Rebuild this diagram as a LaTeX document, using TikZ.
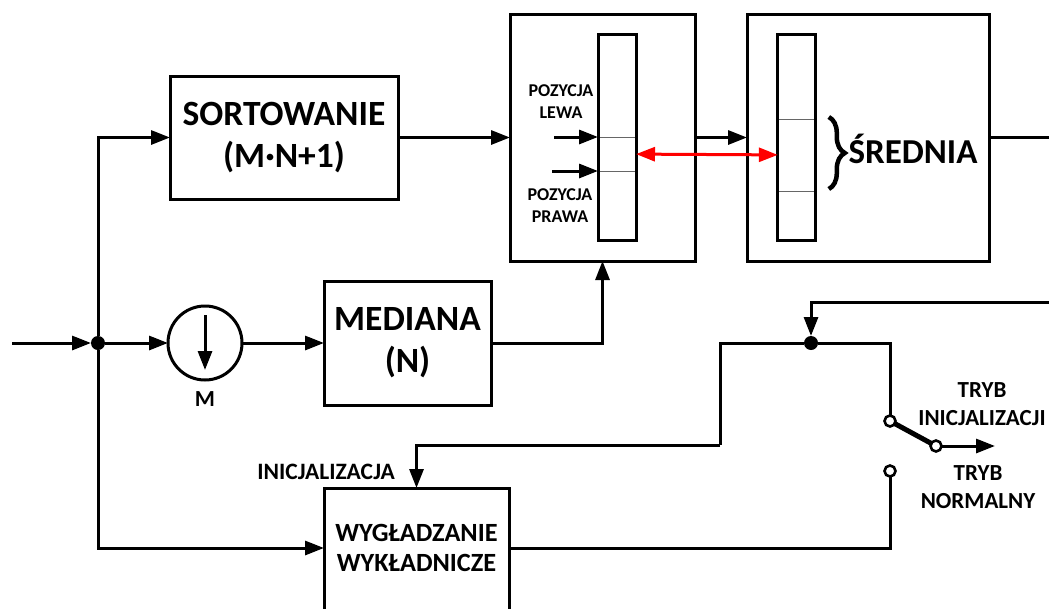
\documentclass[tikz,border=0pt]{standalone}
\usepackage{fontspec}
\setmainfont{Carlito}
\usetikzlibrary{positioning,fit,arrows.meta,decorations.pathreplacing}

\newcommand{\fsize}[2]{\fontsize{#1}{#2}\selectfont\bfseries}

\begin{document}
\begin{tikzpicture}[
  x=1pt, y=-1pt,
  block/.style={draw, line width=3pt, inner sep=0pt, outer sep=0pt, align=center},
  bigblock/.style={block, font=\fsize{35.5}{42}},
  panel/.style={block, minimum width=185pt, minimum height=247pt},
  cell/.style={draw=black!60, line width=1pt, inner sep=0pt, outer sep=0pt, minimum width=38pt},
  tape/.style={draw, line width=3pt, inner sep=0pt, outer sep=0pt},
  junction/.style={circle, fill=black, inner sep=0pt, outer sep=0pt, minimum size=14pt},
  contact/.style={circle, draw, fill=white, line width=2.6pt, inner sep=0pt, outer sep=0pt, minimum size=11pt},
  smalllabel/.style={align=center, inner sep=0pt, font=\fsize{18}{22}},
  modelabel/.style={align=center, inner sep=0pt, font=\fsize{23}{28}},
  signal/.style={line width=3pt, -{Triangle[length=19pt,width=14pt]}},
  wire/.style={line width=3pt},
  ratio/.style={red, line width=3pt, {Triangle[length=19pt,width=14pt]}-{Triangle[length=19pt,width=14pt]}}
]
  \useasboundingbox (0,0) rectangle (1049,608);

  \coordinate (input) at (12,343);
  \node[junction] (split) at (98,343) {};
  \node[block, circle, minimum size=74pt, right=63pt of split] (sampler) {};
  \node[below=11pt of sampler, modelabel] (samplerlabel) {M};
  \node[bigblock, minimum width=167pt, minimum height=124pt, right=82pt of sampler] (mediana) {MEDIANA\\(N)};
  \node[bigblock, minimum width=228pt, minimum height=123pt] (sort) at (284,137.5) {SORTOWANIE\\(M·N+1)};
  \node[panel, right=112pt of sort] (window) {};
  \node[panel, minimum width=242pt, right=52pt of window] (average) {};
  \node[block, minimum width=185pt, minimum height=124pt] (smooth) at (416.5,550) {};
  \node[font=\fsize{26.3}{30}, align=center, inner sep=0pt] (smoothlabel) at (416.5,548) {WYG\L{}ADZANIE\\WYK\L{}ADNICZE};

  \node[cell, minimum height=34pt] (winmid) at (617,154) {};
  \node[cell, minimum height=103pt, above=0pt of winmid] (wintop) {};
  \node[cell, minimum height=69pt, below=0pt of winmid] (winbot) {};
  \node[tape, fit=(wintop)(winbot)] (wintape) {};

  \node[cell, minimum height=72pt] (avgmid) at (796.8,155) {};
  \node[cell, minimum height=85pt, above=0pt of avgmid] (avgtop) {};
  \node[cell, minimum height=49pt, below=0pt of avgmid] (avgbot) {};
  \node[tape, fit=(avgtop)(avgbot)] (avgtape) {};

  \node[smalllabel] (leftlabel) at (561,102) {POZYCJA\\LEWA};
  \node[smalllabel] (rightlabel) at (560,205.5) {POZYCJA\\PRAWA};
  \coordinate (leftstart) at (554,137);
  \coordinate (rightstart) at (552,171);
  \node[inner sep=0pt, font=\fsize{35}{40}] (avglabel) at (913,149) {ŚREDNIA};

  \node[junction] (merge) at (811,343) {};
  \node[contact] (upper) at (890,421) {};
  \node[contact] (lower) at (890,471) {};
  \node[contact] (pole) at (936,446) {};
  \coordinate (out) at (995,446);
  \coordinate (feedback) at (1049,302);
  \coordinate (avgout) at (1049,137.5);
  \coordinate (bend) at (720,445);
  \node[modelabel] (initlabel) at (982,404) {TRYB\\INICJALIZACJI};
  \node[modelabel] (normlabel) at (978,487) {TRYB\\NORMALNY};
  \node[inner sep=0pt, font=\fsize{23.5}{28}] (smoothinit) at (326,472) {INICJALIZACJA};

  \draw[signal] (input) -- (split);
  \draw[signal] (split) -- (sampler);
  \draw[signal] (sampler) -- (mediana);
  \draw[signal] (split) |- (sort);
  \draw[signal] (split) |- ([yshift=2pt]smooth.west);
  \draw[signal] (sort) -- (window);
  \draw[signal] (window) -- (average);
  \draw[signal] (mediana) -| (window);
  \draw[wire] (average) -- (avgout);
  \draw[signal] (leftstart) -- (winmid.north west);
  \draw[signal] (rightstart) -- (winmid.south west);
  \draw[signal] ([yshift=28pt]sampler.center) -- ([yshift=-27pt]sampler.center);
  \draw[decorate, decoration={brace, amplitude=16pt}, line width=4.5pt]
    ([xshift=13pt,yshift=2pt]avgmid.north east) -- ([xshift=13pt,yshift=2pt]avgmid.south east);
  \draw[ratio] (winmid) -- (avgmid);

  \draw[signal] (feedback) -| (merge);
  \draw[wire] (merge) -| (upper);
  \draw[wire] (merge) -| (bend);
  \draw[signal] (bend) -| (smooth.north);
  \draw[wire] ([yshift=2pt]smooth.east) -| (lower);
  \draw[line width=5pt] (upper) -- (pole);
  \draw[signal] (pole) -- (out);
\end{tikzpicture}
\end{document}
